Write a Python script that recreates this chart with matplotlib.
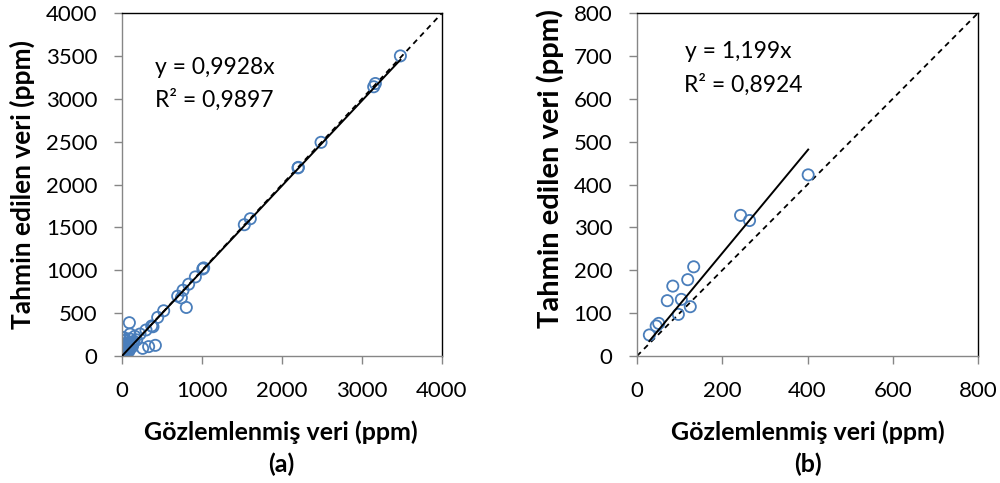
import matplotlib.pyplot as plt
import numpy as np

plt.rcParams['font.family'] = ['Lato', 'DejaVu Sans']

# (a) gözlemlenen / tahmin edilen
obs_a = [3480, 3146, 3167, 2488, 2200, 2205, 1529, 1604, 1021, 1010, 917, 833, 763,
         696, 742, 804, 521, 446, 387, 417, 333, 258, 92, 0, 300, 371, 225, 183,
         142, 100, 62, 30, 45, 70, 20, 10, 55, 80, 120, 35, 15, 90, 150, 110,
         25, 40, 60, 5, 75, 130, 18, 50, 85, 12, 65, 105, 38, 28, 95, 160]
pred_a = [3500, 3140, 3178, 2492, 2194, 2200, 1531, 1601, 1027, 1015, 922, 837, 767,
          698, 678, 566, 527, 450, 341, 124, 109, 89, 388, 218, 303, 350, 256, 187,
          148, 256, 90, 40, 70, 60, 215, 20, 100, 110, 130, 30, 60, 75, 170, 160,
          90, 120, 40, 80, 140, 110, 50, 25, 55, 120, 150, 90, 10, 180, 200, 230]
slope_a = 0.9928

# (b)
obs_b = [401.6, 243, 264, 133, 119, 84, 71, 104, 125, 97, 51, 45, 29]
pred_b = [422.5, 328, 316, 208, 178, 163, 129, 132, 115, 97, 76, 70, 49]
slope_b = 1.199

panels = [
    dict(obs=obs_a, pred=pred_a, slope=slope_a, eq='0,9928x', r2='0,9897', lim=4000,
         ystep=500, xstep=1000, tag='(a)', rect=[0.122, 0.263, 0.32, 0.71],
         t1=(412, 3288), t2=(412, 2903), ylab=(0.022, 0.617, 19), xc=0.281),
    dict(obs=obs_b, pred=pred_b, slope=slope_b, eq='1,199x', r2='0,8924', lim=800,
         ystep=100, xstep=200, tag='(b)', rect=[0.637, 0.263, 0.341, 0.71],
         t1=(112, 695), t2=(110, 616), ylab=(0.550, 0.652, 21), xc=0.8075),
]

fig = plt.figure(figsize=(10, 4.83), dpi=100)
gray = '#868686'
for p in panels:
    ax = fig.add_axes(p['rect'])
    lim = p['lim']
    ax.plot([0, lim], [0, lim], color='k', ls='--', dashes=(3, 2.5), lw=1.3, zorder=1)
    xs = np.array([min(p['obs']), max(p['obs'])])
    ax.plot(xs, p['slope'] * xs, 'k-', lw=1.4, zorder=3)
    ax.scatter(p['obs'], p['pred'], s=65, facecolors='none', edgecolors='#4a7ebb',
               linewidths=1.3, zorder=2)
    ax.set_xlim(0, lim)
    ax.set_ylim(0, lim)
    ax.set_xticks(np.arange(0, lim + 1, p['xstep']))
    ax.set_yticks(np.arange(0, lim + 1, p['ystep']))
    ax.tick_params(direction='out', length=5.8, color=gray, labelsize=16, width=1.0, pad=12)
    for s in ['left', 'bottom']:
        ax.spines[s].set_color(gray)
        ax.spines[s].set_linewidth(1.0)
    for s in ['top', 'right']:
        ax.spines[s].set_color('black')
        ax.spines[s].set_linewidth(1.0)
    ax.text(p['t1'][0], p['t1'][1], 'y = ' + p['eq'], fontsize=16.5, va='baseline')
    ax.text(p['t2'][0], p['t2'][1], 'R² = ' + p['r2'], fontsize=16.5, va='baseline')
    fig.text(p['xc'], 43 / 483, 'Gözlemlenmiş veri (ppm)', fontsize=18, fontweight='bold',
             ha='center', va='baseline')
    fig.text(p['xc'], 11 / 483, p['tag'], fontsize=18, fontweight='bold',
             ha='center', va='baseline')
    fig.text(p['ylab'][0], p['ylab'][1], 'Tahmin edilen veri (ppm)', fontsize=p['ylab'][2],
             fontweight='bold', rotation=90, ha='center', va='center')

fig.savefig('out.png', dpi=100)
